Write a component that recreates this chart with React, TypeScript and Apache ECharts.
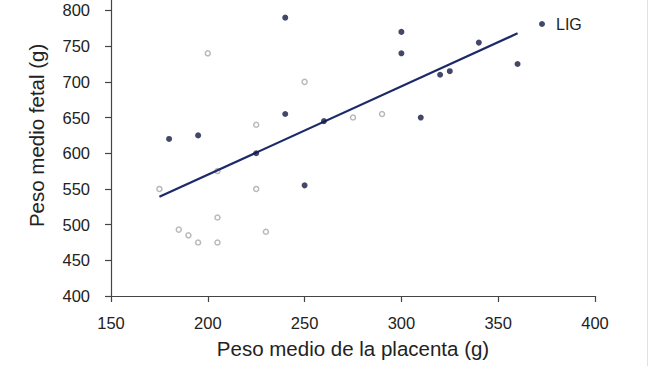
import React, { useEffect, useRef } from "react";
import * as echarts from "echarts";

// LIG group (filled dark points): [placenta weight, fetal weight]
const ligPoints: number[][] = [
  [180, 620], [195, 625], [225, 600], [240, 655], [240, 790], [250, 555],
  [260, 645], [300, 770], [300, 740], [310, 650], [320, 710], [325, 715],
  [340, 755], [360, 725],
];
// Other group (hollow grey points)
const otherPoints: number[][] = [
  [175, 550], [185, 493], [190, 485], [195, 475], [200, 740], [205, 575],
  [205, 510], [205, 475], [225, 640], [225, 550], [230, 490], [250, 700],
  [275, 650], [290, 655],
];
// Regression line for LIG
const ligTrend: number[][] = [
  [175, 539],
  [360, 768],
];
const xTicks = { min: 150, max: 400, interval: 50 };
const yTicks = { min: 400, max: 850, interval: 50 };

// The original figure is cropped at the top: the chart canvas starts 36px above the page.
const CROP = 36;

export default function App() {
  const ref = useRef<HTMLDivElement>(null);
  useEffect(() => {
    if (!ref.current) return;
    const chart = echarts.init(ref.current, undefined, { renderer: "svg" });
    const font = "Liberation Sans, Arial, sans-serif";
    chart.setOption({
      animation: false,
      backgroundColor: "#ffffff",
      textStyle: { fontFamily: font },
      grid: { left: 111, right: 55, top: 10.8, bottom: 70 },
      legend: {
        data: [{ name: "LIG", icon: "circle" }],
        left: 534,
        top: CROP + 11,
        itemWidth: 18,
        itemHeight: 6,
        symbolKeepAspect: true,
        itemGap: 9,
        textStyle: { fontFamily: font, fontSize: 16, color: "#222" },
      },
      xAxis: {
        type: "value",
        min: xTicks.min,
        max: xTicks.max,
        interval: xTicks.interval,
        name: "Peso medio de la placenta (g)",
        nameLocation: "middle",
        nameGap: 42,
        nameTextStyle: { fontFamily: font, fontSize: 20.5, color: "#222" },
        axisLine: { show: true, lineStyle: { color: "#444", width: 1.2 } },
        axisTick: { show: true, length: 6, lineStyle: { color: "#444", width: 1.2 } },
        axisLabel: { fontFamily: font, fontSize: 16.5, color: "#222", margin: 18 },
        splitLine: { show: false },
      },
      yAxis: {
        type: "value",
        min: yTicks.min,
        max: yTicks.max,
        interval: yTicks.interval,
        name: "Peso medio fetal (g)",
        nameLocation: "middle",
        nameGap: 64,
        nameRotate: 90,
        nameTextStyle: { fontFamily: font, fontSize: 20.5, color: "#222" },
        axisLine: { show: true, lineStyle: { color: "#444", width: 1.2 } },
        axisTick: { show: true, length: 6, lineStyle: { color: "#444", width: 1.2 } },
        axisLabel: { fontFamily: font, fontSize: 16.5, color: "#222", margin: 21, showMaxLabel: false },
        splitLine: { show: false },
      },
      series: [
        {
          name: "Otros",
          type: "scatter",
          data: otherPoints,
          symbol: "circle",
          symbolSize: 5,
          itemStyle: { color: "#ffffff", borderColor: "#a8a8a8", borderWidth: 1.5 },
          z: 2,
        },
        {
          name: "LIG trend",
          type: "line",
          data: ligTrend,
          symbol: "none",
          lineStyle: { color: "#1c2a68", width: 2.2 },
          z: 3,
        },
        {
          name: "LIG",
          type: "scatter",
          data: ligPoints,
          symbol: "circle",
          symbolSize: 6,
          itemStyle: { color: "#151a42" },
          z: 4,
        },
      ],
      graphic: [
        {
          type: "line",
          shape: { x1: 647.5, y1: CROP, x2: 647.5, y2: CROP + 366 },
          style: { stroke: "#e2e2e2", lineWidth: 1 },
        },
      ],
    });
    return () => chart.dispose();
  }, []);
  return (
    <div style={{ position: "absolute", left: 0, top: 0, width: 650, height: 366, overflow: "hidden" }}>
      <div ref={ref} style={{ width: 650, height: 366 + CROP, position: "absolute", left: 0, top: -CROP }} />
    </div>
  );
}
